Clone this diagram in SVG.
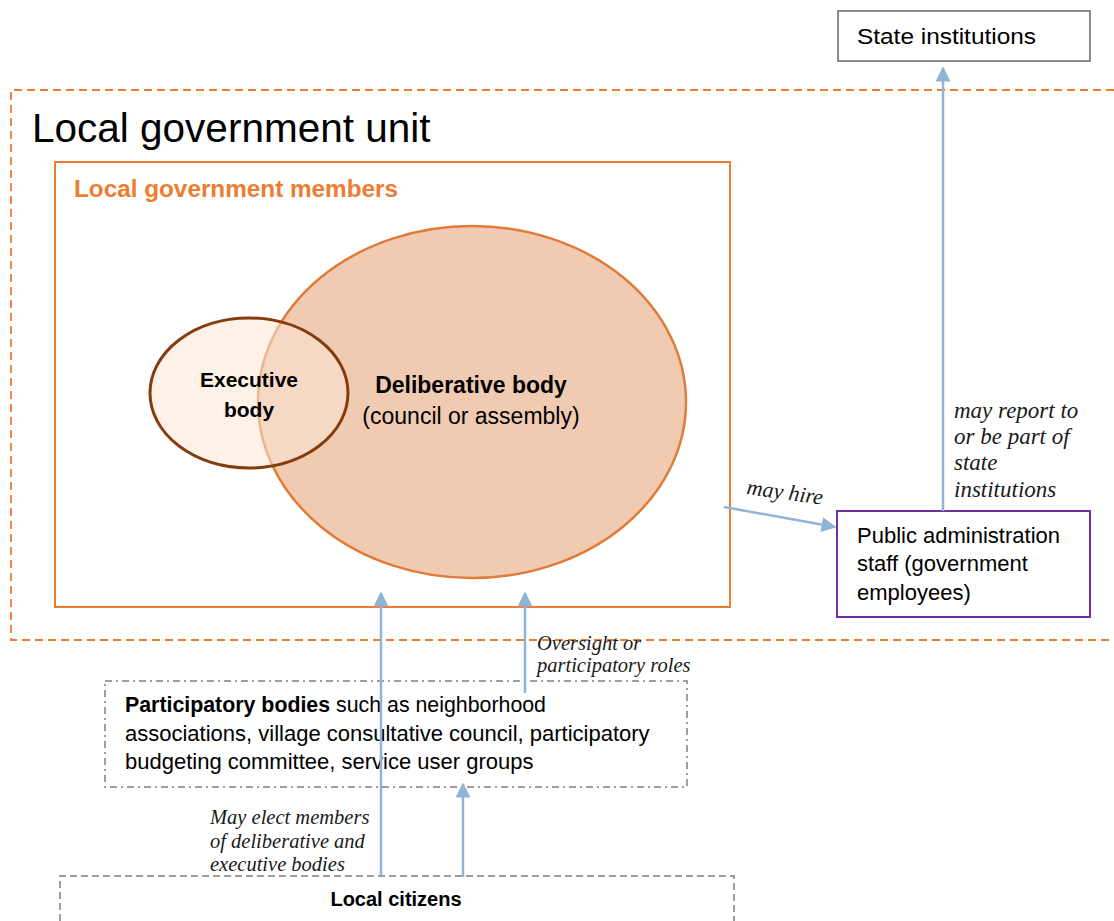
<svg xmlns="http://www.w3.org/2000/svg" width="1114" height="921" viewBox="0 0 1114 921">
<defs>
<style>
.t{font-family:"Liberation Sans",Arial,sans-serif;font-size:22px;fill:#000}
.b{font-weight:bold}
.i{font-family:"Liberation Serif","Times New Roman",serif;font-style:italic;font-size:23px;fill:#1a1a1a}
.ic{font-family:"Liberation Serif","Times New Roman",serif;font-style:italic;font-size:20.5px;fill:#1a1a1a}
.c{stroke:#8FB4D6;stroke-width:2.5;fill:none}
</style>
<marker id="ah" viewBox="0 0 10 10" refX="9" refY="5" markerWidth="6" markerHeight="6" orient="auto" markerUnits="strokeWidth">
<path d="M0,0 L10,5 L0,10 z" fill="#8FB4D6"/>
</marker>
</defs>
<rect width="1114" height="921" fill="#fff"/>

<g id="local-government-unit">
<path d="M1114,90 H11 V640 H1114" fill="none" stroke="#ED7D31" stroke-width="1.8" stroke-dasharray="8,5"/>
<text x="32" y="142" class="t" style="font-size:40.5px">Local government unit</text>
</g>

<g id="state-institutions">
<rect x="838" y="11" width="252" height="50" fill="#fff" stroke="#7F7F7F" stroke-width="1.8"/>
<text x="857" y="44" class="t" textLength="179" lengthAdjust="spacingAndGlyphs">State institutions</text>
</g>

<g id="local-government-members">
<rect x="55" y="162" width="675" height="445" fill="#fff" stroke="#ED7D31" stroke-width="2"/>
<text x="74" y="197" class="t b" style="fill:#ED7D31;font-size:23px" textLength="324" lengthAdjust="spacingAndGlyphs">Local government members</text>
</g>

<g id="deliberative-body">
<ellipse cx="472" cy="402" rx="214" ry="176" fill="#F0CBB2" stroke="#E07B39" stroke-width="2.5"/>
<text x="471" y="393" class="t b" text-anchor="middle" style="font-size:23px">Deliberative body</text>
<text x="471" y="424" class="t" text-anchor="middle" style="font-size:23px">(council or assembly)</text>
</g>

<g id="executive-body">
<ellipse cx="249" cy="393" rx="99" ry="75" fill="#FBE5D6" fill-opacity="0.55" stroke="#843C0C" stroke-width="3"/>
<text x="249" y="387" class="t b" text-anchor="middle" style="font-size:21px">Executive</text>
<text x="249" y="417" class="t b" text-anchor="middle" style="font-size:21px">body</text>
</g>

<g id="public-administration-staff">
<rect x="837" y="511" width="253" height="106" fill="#fff" stroke="#7030A0" stroke-width="2"/>
<text class="t"><tspan x="857" y="543">Public administration</tspan><tspan x="857" y="571">staff (government</tspan><tspan x="857" y="600">employees)</tspan></text>
</g>

<g id="participatory-bodies">
<rect x="105" y="681" width="582" height="106" fill="#fff" stroke="#7F7F7F" stroke-width="1.5" stroke-dasharray="7,4,2,4"/>
<text class="t" x="125" y="712" textLength="421" lengthAdjust="spacingAndGlyphs"><tspan class="b">Participatory bodies</tspan> such as neighborhood</text>
<text class="t"><tspan x="125" y="741">associations, village consultative council, participatory</tspan><tspan x="125" y="769">budgeting committee, service user groups</tspan></text>
</g>

<g id="local-citizens">
<path d="M60,921 V876 H734 V921" fill="#fff" stroke="#7F7F7F" stroke-width="1.5" stroke-dasharray="7,4"/>
<text x="396" y="906" class="t b" text-anchor="middle" style="font-size:20px">Local citizens</text>
</g>

<g id="connectors">
<line x1="943" y1="511" x2="943" y2="68" class="c" marker-end="url(#ah)"/>
<line x1="724" y1="507" x2="835" y2="527" class="c" marker-end="url(#ah)"/>
<line x1="381" y1="875" x2="381" y2="593" class="c" marker-end="url(#ah)"/>
<line x1="525" y1="693" x2="525" y2="593" class="c" marker-end="url(#ah)"/>
<line x1="463" y1="877" x2="463" y2="784" class="c" marker-end="url(#ah)"/>
</g>

<g id="labels">
<text class="i"><tspan x="954" y="418">may report to</tspan><tspan x="954" y="444">or be part of</tspan><tspan x="954" y="470">state</tspan><tspan x="954" y="497">institutions</tspan></text>
<text class="i" style="font-size:22px" transform="translate(746,494) rotate(8)">may hire</text>
<text class="ic"><tspan x="537" y="650">Oversight or</tspan><tspan x="537" y="672">participatory roles</tspan></text>
<text class="ic"><tspan x="210" y="824">May elect members</tspan><tspan x="210" y="848">of deliberative and</tspan><tspan x="210" y="871">executive bodies</tspan></text>
</g>
</svg>
